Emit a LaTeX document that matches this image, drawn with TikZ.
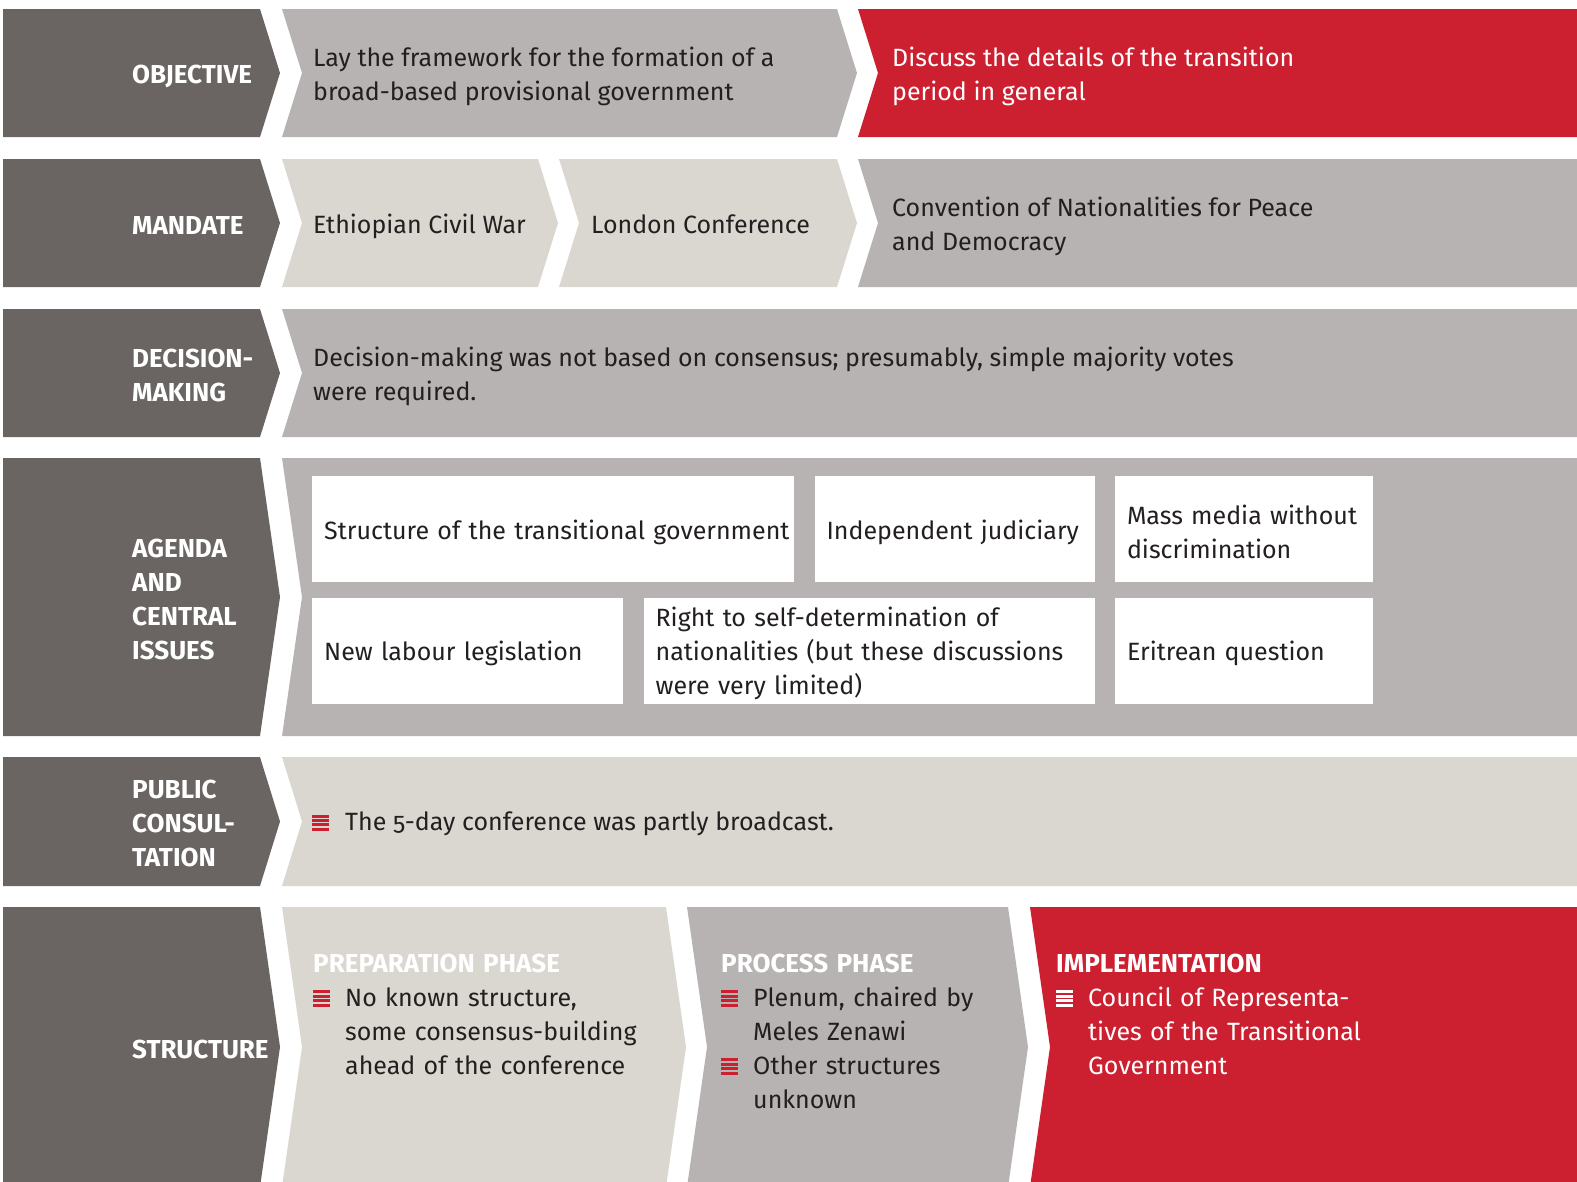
\documentclass[tikz,border=0pt]{standalone}
\usepackage{fontspec}
\setmainfont[Numbers=OldStyle]{Fira Sans}
\usetikzlibrary{positioning,calc}
\definecolor{slate}{HTML}{6A6562}
\definecolor{stone}{HTML}{B7B3B2}
\definecolor{sand}{HTML}{DAD7D0}
\definecolor{signal}{HTML}{CC1F30}
\definecolor{ink}{HTML}{231F20}
% chevron band: notch depth, x left, x right, y top, y bottom, colour
\newcommand{\band}[6]{\fill[#6] (#2,#4) -- (#3,#4) -- ({#3+20},{(#4+#5)/2}) -- (#3,#5) -- (#2,#5) -- ({#2+#1},{(#4+#5)/2}) -- cycle;}
\newcommand{\bars}[1]{\textcolor{#1}{\vbox{\offinterlineskip
  \hrule width 17pt height 3pt\vskip1.4pt\hrule width 17pt height 3pt\vskip1.4pt
  \hrule width 17pt height 3pt\vskip1.4pt\hrule width 17pt height 3pt}}}
\newcommand{\bitem}[2][signal]{\par\hangindent=32pt\hangafter=1\noindent\makebox[32pt][l]{\bars{#1}}#2\par}
\newcommand{\bodyfont}{\fontsize{25}{34}\selectfont\hyphenpenalty=10000\exhyphenpenalty=10000}
\newcommand{\labfont}{\fontsize{26}{34}\selectfont\bfseries}

\begin{document}
\begin{tikzpicture}[x=1pt, y=-1pt,
  lab/.style={anchor=west, align=left, text=white, font=\labfont, inner sep=0pt, yshift=-2pt},
  txt/.style={anchor=west, align=left, text=ink, font=\bodyfont, inner sep=0pt, yshift=-3pt},
  issue/.style={fill=white, text=ink, font=\bodyfont, align=left, inner xsep=12pt, inner ysep=0pt,
    minimum height=106pt, execute at begin node={\rule{0pt}{25.5pt}}},
  phase/.style={anchor=north west, align=left, text=ink, font=\bodyfont, inner sep=0pt}]
  \clip (0,0) rectangle (1577,1181);
  % label column
  \foreach \t/\b in {9/137,159/287,309/437,458/736,757/886,907/1187}
    {\band{0}{3}{260}{\t}{\b}{slate}}
  % bands
  \band{20}{282}{837}{9}{137}{stone}
  \band{20}{858}{1600}{9}{137}{signal}
  \band{20}{282}{538}{159}{287}{sand}
  \band{20}{559}{837}{159}{287}{sand}
  \band{20}{858}{1600}{159}{287}{stone}
  \band{20}{282}{1600}{309}{437}{stone}
  \band{20}{282}{1600}{458}{736}{stone}
  \band{20}{282}{1600}{757}{886}{sand}
  \band{20}{282}{666}{907}{1187}{sand}
  \band{20}{687}{1008}{907}{1187}{stone}
  \band{20}{1030}{1600}{907}{1187}{signal}

  \node[lab] (objective) at (132,74) {OBJECTIVE};
  \node[txt] (framework) at (313,73) {Lay the framework for the formation of a\\broad-based provisional government};
  \node[txt, text=white] (transition) at (892,73) {Discuss the details of the transition\\period in general};

  \node[lab] (mandate) at (132,223) {MANDATE};
  \node[txt] (civilwar) at (313,223) {Ethiopian Civil War};
  \node[txt, yshift=2pt] (london) at (591,223) {London Conference};
  \node[txt] (convention) at (892,223) {Convention of Nationalities for Peace\\and Democracy};

  \node[lab] (decision) at (132,373) {DECISION-\\MAKING};
  \node[txt] (majority) at (313,373) {Decision-making was not based on consensus; presumably, simple majority votes\\were required.};

  \node[lab] (agenda) at (132,597) {AGENDA\\AND\\CENTRAL\\ISSUES};
  \node[issue, anchor=north west, text width=458pt] (govt) at (312,476) {\mbox{Structure of the transitional government}};
  \node[issue, text width=256pt, right=20pt of govt] (judiciary) {Independent judiciary};
  \node[issue, text width=234pt, right=20pt of judiciary] (media) {Mass media without\\discrimination};
  \node[issue, text width=287pt, below=15pt of govt.south west, anchor=north west] (labour) {New labour legislation};
  \node[issue, text width=427pt, right=20pt of labour] (selfdet) {Right to self-determination of\\nationalities (but these discussions\\were very limited)};
  \node[issue, text width=234pt, right=20pt of selfdet] (eritrea) {Eritrean question};

  \node[lab] (public) at (132,821) {PUBLIC\\CONSUL-\\TATION};
  \node[txt] (broadcast) at (312,821) {\makebox[33pt][l]{\bars{signal}}The 5-day conference was partly broadcast.};

  \node[lab] (structure) at (132,1047) {STRUCTURE};
  \node[phase, text width=340pt] (prep) at (313,954)
    {{\color{white}\labfont PREPARATION PHASE}\bitem{No known structure,\newline some consensus-building\newline ahead of the conference}};
  \node[phase, text width=280pt] (process) at (721,954)
    {{\color{white}\labfont PROCESS PHASE}\bitem{Plenum, chaired by\newline Meles Zenawi}\bitem{Other structures\newline unknown}};
  \node[phase, text width=320pt, text=white] (implement) at (1056,954)
    {{\labfont IMPLEMENTATION}\bitem[white]{Council of Representa-\newline tives of the Transitional\newline Government}};
\end{tikzpicture}
\end{document}
